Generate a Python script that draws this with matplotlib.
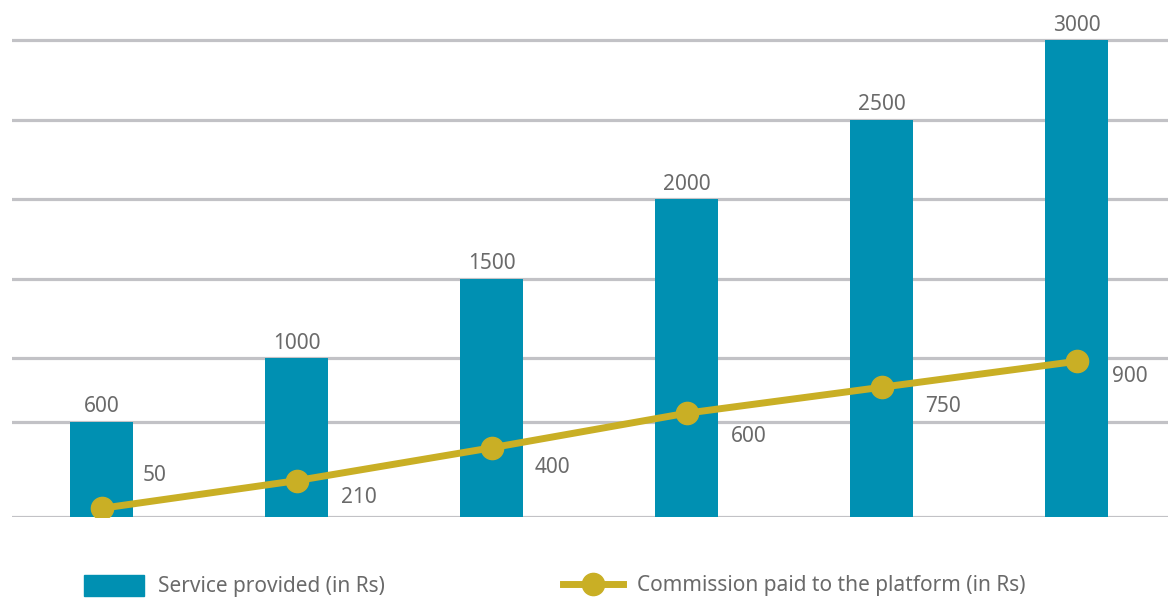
"""Service value vs. platform commission — bar + line combo chart."""

import matplotlib
matplotlib.use("Agg")
import matplotlib.pyplot as plt
from matplotlib.lines import Line2D
from matplotlib.patches import Patch

# data
service = [600, 1000, 1500, 2000, 2500, 3000]
commission = [50, 210, 400, 600, 750, 900]
service_label = "Service provided (in Rs)"
commission_label = "Commission paid to the platform (in Rs)"

# label offsets (points) for the commission values, relative to each marker
comm_offsets = [(38, 24), (45, -12), (44, -14), (45, -17), (44, -14), (38, -11)]

BAR = "#0090b2"
LINE = "#c9af25"
GRID = "#c2c2c6"
TEXT = "#6a6a6a"
FS = 15

plt.rcParams["font.family"] = ["Noto Sans", "DejaVu Sans"]

W, H = 1168, 598
fig = plt.figure(figsize=(W / 100, H / 100), dpi=100)
# axes in pixel terms: left 12, right 1168, bottom 517, top 30
ax = fig.add_axes([12 / W, 1 - 517 / H, 1 - 12 / W, (517 - 30) / H])
x = list(range(len(service)))

ax.bar(x, service, width=0.323, color=BAR, zorder=2)
ax.set_xlim(-0.459, 5.469)
ax.set_ylim(0, 3000 * 487 / 477)
for v in [0] + service:
    ax.axhline(v, color=GRID, lw=2.3, zorder=1)
for s in ax.spines.values():
    s.set_visible(False)

for xi, v in zip(x, service):
    ax.annotate(str(v), (xi, v), xytext=(0, 3), textcoords="offset points",
                ha="center", va="bottom", fontsize=FS, color=TEXT)

# commission sits on its own (secondary) scale
ax2 = ax.twinx()
ax2.set_ylim(0, 487 / 0.173)
ax2.set_xlim(ax.get_xlim())
ax2.axis("off")
ax2.plot(x, commission, color=LINE, lw=5, marker="o", markersize=16,
         solid_capstyle="butt", zorder=3)
for xi, v, off in zip(x, commission, comm_offsets):
    ax2.annotate(str(v), (xi, v), xytext=off, textcoords="offset points",
                 ha="center", va="center", fontsize=FS, color=TEXT)

# twinx turns the left ticks back on, so hide them afterwards
ax.set_xticks([])
ax.set_yticks([])

# legend, two separate entries along the bottom
leg_kw = dict(frameon=False, fontsize=FS, labelcolor=TEXT, loc="center left",
              borderpad=0, borderaxespad=0, handlelength=2.86,
              handletextpad=0.7)
fig.legend(handles=[Patch(color=BAR)], labels=[service_label],
           bbox_to_anchor=(84 / W, 1 - 586 / H), handleheight=1.2, **leg_kw)
fig.legend(handles=[Line2D([], [], color=LINE, lw=5, marker="o", markersize=16)],
           labels=[commission_label],
           bbox_to_anchor=(563 / W, 1 - 586 / H), **leg_kw)

fig.savefig("out.png", dpi=100)
